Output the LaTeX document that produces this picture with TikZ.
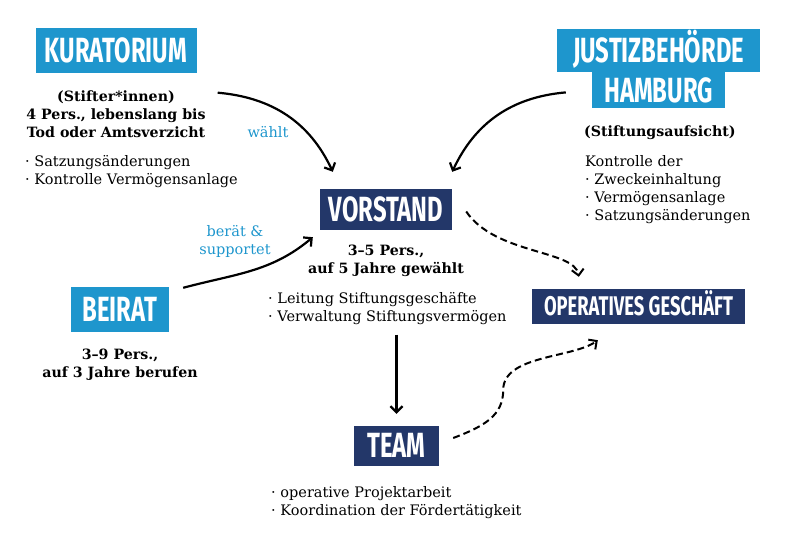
\documentclass[tikz,border=0pt]{standalone}
\usepackage{fontspec}
\setmainfont{DejaVu Serif}
\newfontfamily\titlefont[FakeStretch=0.68]{Fira Sans}
\usetikzlibrary{positioning,calc,arrows.meta}
\definecolor{stiftblue}{RGB}{30,150,205}
\definecolor{stiftnavy}{RGB}{35,55,105}

\begin{document}
\begin{tikzpicture}[
    x=1pt, y=1pt,
    >={Straight Barb[length=6pt,width=12pt]},
    headbox/.style={rectangle, text=white, inner sep=0pt, font=\titlefont\bfseries\fontsize{35}{35}\selectfont, text height=24pt, text depth=0pt},
    lightbox/.style={headbox, fill=stiftblue},
    darkbox/.style={headbox, fill=stiftnavy},
    infotext/.style={inner sep=0pt, align=center, font=\fontsize{14.2}{18}\selectfont\bfseries},
    tasklist/.style={inner sep=0pt, align=left, anchor=north west, font=\fontsize{14.5}{18}\selectfont},
    labeltext/.style={inner sep=0pt, align=center, text=stiftblue, font=\fontsize{14.5}{18}\selectfont},
    arrow/.style={->, line width=2.2pt},
    dasharrow/.style={->, line width=2pt, dash pattern=on 7pt off 4pt}
]
\useasboundingbox (0,0) rectangle (800,545);

% Boxes
\node[lightbox, minimum width=161pt, minimum height=45pt] (kurat) at (116,494) {KURATORIUM};
\node[lightbox, minimum width=203pt, minimum height=43pt] (justiz) at (658.5,494.5) {JUSTIZBEHÖRDE};
\node[lightbox, minimum width=133pt, minimum height=36pt, below=0pt of justiz] (hamburg) {HAMBURG};
\node[darkbox, minimum width=132pt, minimum height=41pt] (vorstand) at (386,335.5) {VORSTAND};
\node[lightbox, minimum width=98pt, minimum height=45pt] (beirat) at (120,235.5) {BEIRAT};
\node[darkbox, minimum width=85pt, minimum height=40pt] (team) at (396.5,99) {TEAM};
\node[darkbox, minimum width=213pt, minimum height=35pt, font=\titlefont\bfseries\fontsize{27}{27}\selectfont, text height=18.5pt] (ops) at (638.5,238.5) {OPERATIVES GESCHÄFT};

% Texts
\node[infotext, below=17pt of kurat] (kurinfo) {(Stifter*innen)\\4 Pers., lebenslang bis\\Tod oder Amtsverzicht};
\node[tasklist] (kurtasks) at (25,390) {· Satzungsänderungen\\· Kontrolle Vermögensanlage};
\node[infotext, anchor=north west] (justinfo) at (584,419) {(Stiftungsaufsicht)};
\node[tasklist] (justtasks) at (585,390) {Kontrolle der\\· Zweckeinhaltung\\· Vermögensanlage\\· Satzungsänderungen};
\node[infotext, below=15pt of vorstand] (vorinfo) {3–5 Pers.,\\auf 5 Jahre gewählt};
\node[tasklist] (vortasks) at (268,253) {· Leitung Stiftungsgeschäfte\\· Verwaltung Stiftungsvermögen};
\node[infotext, below=17pt of beirat] (beirinfo) {3–9 Pers.,\\auf 3 Jahre berufen};
\node[tasklist] (teamtasks) at (271,59) {· operative Projektarbeit\\· Koordination der Fördertätigkeit};

% Labels
\node[labeltext] (waehlt) at (268,413) {wählt};
\node[labeltext] (beraet) at (235,304) {berät \&\\supportet};

% Arrows
\draw[arrow] ([xshift=21pt,yshift=-19pt]kurat.south east) to[out=-5, in=115] ([xshift=13pt,yshift=17pt]vorstand.north west);
\draw[arrow] ([xshift=-26pt,yshift=-2pt]hamburg.west) to[out=185, in=65] ([yshift=17pt]vorstand.north east);
\draw[arrow] ([xshift=14pt,yshift=-1pt]beirat.north east) to[out=15, in=220] ([xshift=-7pt,yshift=-7pt]vorstand.south west);
\draw[arrow, shorten <=10pt, shorten >=12pt] (vortasks.south -| team.north) -- (team.north);
\draw[dasharrow] ([xshift=14pt,yshift=-2pt]vorstand.east) .. controls +(29,-43) and +(-4,27) .. ([xshift=47pt,yshift=12pt]ops.north west);
\coordinate (wiggle) at ([xshift=64pt,yshift=56pt]team.east);
\draw[dasharrow] ([xshift=14pt,yshift=8pt]team.east) .. controls +(32,12) and +(0,-25) .. (wiggle) .. controls +(0,35) and +(-25,-18) .. ([xshift=66pt,yshift=-16pt]ops.south west);

\end{tikzpicture}
\end{document}
